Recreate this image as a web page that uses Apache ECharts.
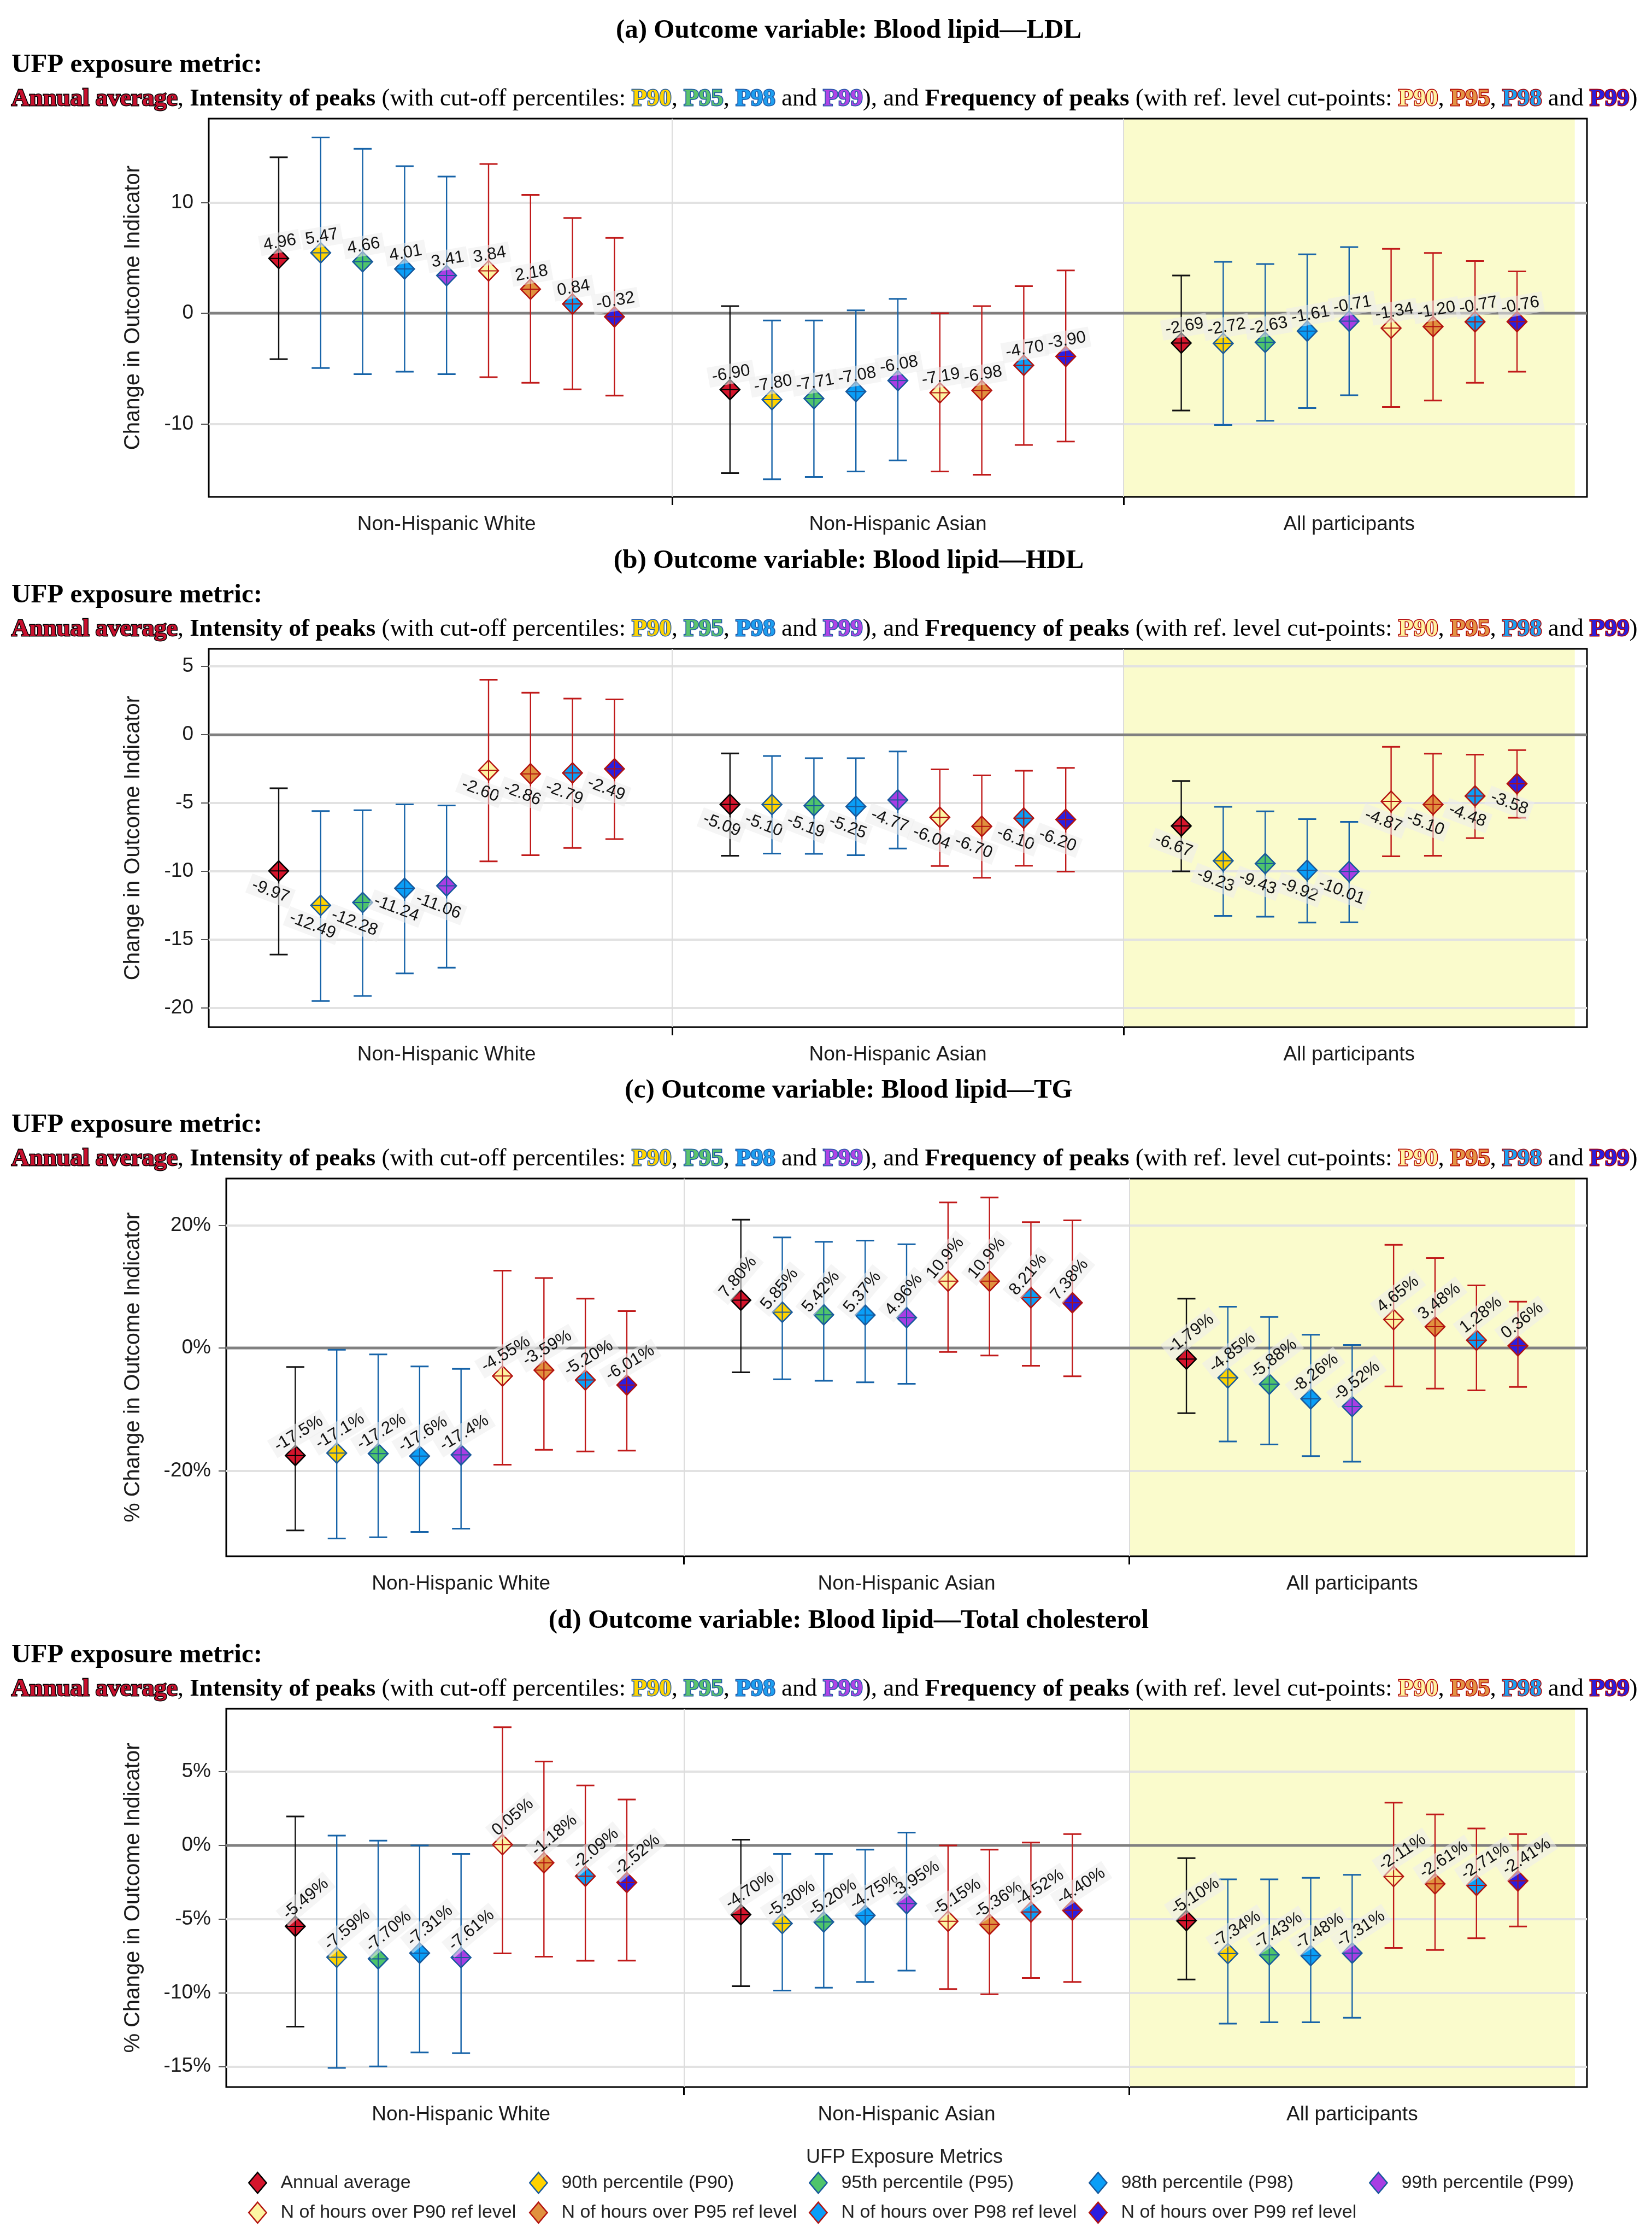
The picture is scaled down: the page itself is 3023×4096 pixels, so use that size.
<!DOCTYPE html>
<html><head><meta charset="utf-8">
<script src="https://cdn.jsdelivr.net/npm/echarts@6/dist/echarts.min.js"></script>
<style>html,body{margin:0;padding:0;background:#fff}#c{width:3023px;height:4096px}</style>
</head><body><div id="c"></div>
<script>
// ---------------- DATA ----------------
const GROUPS = ['Non-Hispanic White', 'Non-Hispanic Asian', 'All participants'];
const METRICS = ['Annual average', '90th percentile (P90)', '95th percentile (P95)', '98th percentile (P98)', '99th percentile (P99)',
  'N of hours over P90 ref level', 'N of hours over P95 ref level', 'N of hours over P98 ref level', 'N of hours over P99 ref level'];

// values ordered: group (White, Asian, All) x metric (9)
const LDL_EST = [4.96, 5.47, 4.66, 4.01, 3.41, 3.84, 2.18, 0.84, -0.32,
  -6.90, -7.80, -7.71, -7.08, -6.08, -7.19, -6.98, -4.70, -3.90,
  -2.69, -2.72, -2.63, -1.61, -0.71, -1.34, -1.20, -0.77, -0.76];
const LDL_LO = [-4.15, -4.95, -5.50, -5.28, -5.50, -5.78, -6.28, -6.88, -7.44,
  -14.45, -15.0, -14.8, -14.3, -13.3, -14.3, -14.6, -11.9, -11.6,
  -8.79, -10.1, -9.72, -8.57, -7.41, -8.47, -7.89, -6.28, -5.28];
const LDL_HI = [14.1, 15.9, 14.87, 13.3, 12.36, 13.5, 10.7, 8.62, 6.81,
  0.65, -0.65, -0.65, 0.26, 1.3, 0.0, 0.65, 2.45, 3.87,
  3.42, 4.65, 4.45, 5.33, 5.98, 5.83, 5.45, 4.72, 3.79];

const HDL_EST = [-9.97, -12.49, -12.28, -11.24, -11.06, -2.60, -2.86, -2.79, -2.49,
  -5.09, -5.10, -5.19, -5.25, -4.77, -6.04, -6.70, -6.10, -6.20,
  -6.67, -9.23, -9.43, -9.92, -10.01, -4.87, -5.10, -4.48, -3.58];
const HDL_LO = [-16.09, -19.49, -19.12, -17.47, -17.05, -9.27, -8.82, -8.29, -7.64,
  -8.86, -8.70, -8.72, -8.82, -8.33, -9.61, -10.47, -9.59, -10.02,
  -10.0, -13.26, -13.32, -13.75, -13.73, -8.90, -8.86, -7.56, -6.07];
const HDL_HI = [-3.91, -5.58, -5.52, -5.09, -5.17, 4.03, 3.08, 2.65, 2.59,
  -1.36, -1.55, -1.71, -1.71, -1.22, -2.53, -2.97, -2.63, -2.42,
  -3.38, -5.27, -5.60, -6.17, -6.37, -0.88, -1.38, -1.45, -1.12];

const TG_EST = [-17.5, -17.1, -17.2, -17.6, -17.4, -4.55, -3.59, -5.20, -6.01,
  7.80, 5.85, 5.42, 5.37, 4.96, 10.9, 10.9, 8.21, 7.38,
  -1.79, -4.85, -5.88, -8.26, -9.52, 4.65, 3.48, 1.28, 0.36];
const TG_LO = [-29.7, -31.0, -30.8, -29.95, -29.4, -19.0, -16.56, -16.83, -16.7,
  -3.94, -5.09, -5.32, -5.58, -5.81, -0.63, -1.21, -2.88, -4.60,
  -10.6, -15.2, -15.7, -17.6, -18.5, -6.24, -6.6, -6.88, -6.33];
const TG_HI = [-3.08, -0.27, -1.04, -2.99, -3.39, 12.6, 11.4, 8.05, 6.02,
  20.9, 18.0, 17.3, 17.5, 16.9, 23.7, 24.5, 20.5, 20.8,
  8.05, 6.74, 5.07, 2.17, 0.50, 16.8, 14.66, 10.2, 7.56];

const TC_EST = [-5.49, -7.59, -7.70, -7.31, -7.61, 0.05, -1.18, -2.09, -2.52,
  -4.70, -5.30, -5.20, -4.75, -3.95, -5.15, -5.36, -4.52, -4.40,
  -5.10, -7.34, -7.43, -7.48, -7.31, -2.11, -2.61, -2.71, -2.41];
const TC_LO = [-12.3, -15.1, -15.0, -14.05, -14.1, -7.33, -7.55, -7.83, -7.82,
  -9.56, -9.85, -9.66, -9.27, -8.5, -9.75, -10.1, -9.0, -9.27,
  -9.1, -12.1, -12.0, -12.0, -11.7, -6.96, -7.1, -6.3, -5.5];
const TC_HI = [1.96, 0.66, 0.32, 0.0, -0.58, 8.02, 5.69, 4.07, 3.11,
  0.39, -0.58, -0.58, -0.29, 0.87, 0.0, -0.29, 0.19, 0.77,
  -0.87, -2.3, -2.3, -2.2, -2.0, 2.9, 2.1, 1.15, 0.77];

const LDL_TICKS = [-10, 0, 10];
const HDL_TICKS = [-20, -15, -10, -5, 0, 5];
const TG_TICKS = [-20, 0, 20];
const TC_TICKS = [-15, -10, -5, 0, 5];

// ---------------- STYLE / LAYOUT ----------------
const SANS = '"Liberation Sans", Arial, sans-serif';
const SERIF = '"Liberation Serif", "DejaVu Serif", serif';
const MK_FILL = ['#d5152c', '#ffd200', '#4fc46b', '#0a9ef7', '#a83ee3', '#fdf5a3', '#e0913f', '#0a9ef7', '#2b1ee0'];
const MK_LINE = ['#000000', '#17599c', '#17599c', '#17599c', '#17599c', '#b3120f', '#b3120f', '#b3120f', '#b3120f'];
const BAR_COL = ['#111111', '#1663a8', '#1663a8', '#1663a8', '#1663a8', '#c01a1a', '#c01a1a', '#c01a1a', '#c01a1a'];
const X_MIN = 0.473, X_MAX = 3.527, DODGE = 0.093;
const BAND = [2.5, 3.5];
const MK_W = 36, MK_H = 37, CAP_W = 33;
const GRID_RIGHT = 2904;
const YNAME_SIZE = 40;

const PANELS = [
  { title: '(a) Outcome variable: Blood lipid\u2014LDL', est: LDL_EST, lo: LDL_LO, hi: LDL_HI, ticks: LDL_TICKS, pct: false,
    ymin: -16.6, ymax: 17.6, yname: 'Change in Outcome Indicator', top: 217, bottom: 909, left: 382,
    lab: [[10, 2, -29], [10, 2, -29], [10, 6, -30]] },
  { title: '(b) Outcome variable: Blood lipid\u2014HDL', est: HDL_EST, lo: HDL_LO, hi: HDL_HI, ticks: HDL_TICKS, pct: false,
    ymin: -21.4, ymax: 6.29, yname: 'Change in Outcome Indicator', top: 1187, bottom: 1879, left: 382,
    lab: [[-21, -15, 37], [-21, -15, 38], [-21, -14, 36]] },
  { title: '(c) Outcome variable: Blood lipid\u2014TG', est: TG_EST, lo: TG_LO, hi: TG_HI, ticks: TG_TICKS, pct: true,
    ymin: -33.9, ymax: 27.6, yname: '% Change in Outcome Indicator', top: 2156, bottom: 2847, left: 414,
    lab: [[31, 6, -40], [50, -5, -42], [38, 8, -46]] },
  { title: '(d) Outcome variable: Blood lipid\u2014Total cholesterol', est: TC_EST, lo: TC_LO, hi: TC_HI, ticks: TC_TICKS, pct: true,
    ymin: -16.4, ymax: 9.27, yname: '% Change in Outcome Indicator', top: 3126, bottom: 3818, left: 414,
    lab: [[40, 19, -50], [33, 16, -44], [33, 16, -44]] }
];

const LEG_COLS = [[0, 5], [1, 6], [2, 7], [3, 8], [4]];
const LEG_X = [468, 982, 1494, 2006, 2519];

function fmtVal(v, pct) {
  if (!pct) return v.toFixed(2);
  return (Math.abs(v) >= 10 ? v.toFixed(1) : v.toFixed(2)) + '%';
}

function bandRender(params, api) {
  const cs = params.coordSys;
  const a = api.coord([BAND[0], 0])[0], b = api.coord([BAND[1], 0])[0];
  return { type: 'rect', shape: { x: a, y: cs.y, width: b - a, height: cs.height }, style: { fill: '#fafbcc' } };
}
function zeroRender(params, api) {
  const cs = params.coordSys;
  const y = api.coord([1, 0])[1];
  return { type: 'line', shape: { x1: cs.x, y1: y, x2: cs.x + cs.width, y2: y }, style: { stroke: '#808080', lineWidth: 5 } };
}
function makeRender(P, k) {
  return function (params, api) {
    const x = api.value(0), est = api.value(1), lo = api.value(2), hi = api.value(3), gi = api.value(4);
    const c = api.coord([x, est]), pl = api.coord([x, lo]), ph = api.coord([x, hi]);
    const col = BAR_COL[k], bc = MK_LINE[k], fill = MK_FILL[k];
    const hw = MK_W / 2, hh = MK_H / 2, cap = CAP_W / 2;
    const L = P.lab[gi];
    return {
      type: 'group', children: [
        { type: 'line', shape: { x1: c[0], y1: ph[1], x2: c[0], y2: pl[1] }, style: { stroke: col, lineWidth: 2.4 } },
        { type: 'line', shape: { x1: c[0] - cap, y1: ph[1], x2: c[0] + cap, y2: ph[1] }, style: { stroke: col, lineWidth: 3 } },
        { type: 'line', shape: { x1: c[0] - cap, y1: pl[1], x2: c[0] + cap, y2: pl[1] }, style: { stroke: col, lineWidth: 3 } },
        { type: 'polygon', shape: { points: [[c[0], c[1] - hh], [c[0] + hw, c[1]], [c[0], c[1] + hh], [c[0] - hw, c[1]]] },
          style: { fill: fill, stroke: bc, lineWidth: 2.5 } },
        { type: 'line', shape: { x1: c[0] - hw + 2, y1: c[1], x2: c[0] + hw - 2, y2: c[1] }, style: { stroke: bc, lineWidth: 2 } },
        { type: 'line', shape: { x1: c[0], y1: c[1] - hh + 2, x2: c[0], y2: c[1] + hh - 2 }, style: { stroke: bc, lineWidth: 2 } },
        { type: 'text', x: c[0] + L[1], y: c[1] + L[2], rotation: L[0] * Math.PI / 180, z2: 100,
          style: { text: fmtVal(est, P.pct), fontSize: 31, fontFamily: SANS, fill: '#111', align: 'center', verticalAlign: 'middle',
            backgroundColor: 'rgba(236,236,236,0.55)', padding: [3, 7] } }
      ]
    };
  };
}

const grid = [], xAxis = [], yAxis = [], series = [], graphic = [];
const HF = 45, OW = 3;
const HDR_RICH = {
  n: { fontFamily: SERIF, fontSize: HF, fill: '#000' },
  b: { fontFamily: SERIF, fontSize: HF, fontWeight: 'bold', fill: '#000' },
  aa: { fontFamily: SERIF, fontSize: HF, fontWeight: 'bold', fill: '#c8102e', stroke: '#000', lineWidth: OW },
  i90: { fontFamily: SERIF, fontSize: HF, fontWeight: 'bold', fill: '#ffd400', stroke: '#1f5aa6', lineWidth: OW },
  i95: { fontFamily: SERIF, fontSize: HF, fontWeight: 'bold', fill: '#5cc36d', stroke: '#1f5aa6', lineWidth: OW },
  i98: { fontFamily: SERIF, fontSize: HF, fontWeight: 'bold', fill: '#1e9ff0', stroke: '#1f5aa6', lineWidth: OW },
  i99: { fontFamily: SERIF, fontSize: HF, fontWeight: 'bold', fill: '#b044e6', stroke: '#1f5aa6', lineWidth: OW },
  f90: { fontFamily: SERIF, fontSize: HF, fontWeight: 'bold', fill: '#fff3a0', stroke: '#b00000', lineWidth: OW },
  f95: { fontFamily: SERIF, fontSize: HF, fontWeight: 'bold', fill: '#e39445', stroke: '#b00000', lineWidth: OW },
  f98: { fontFamily: SERIF, fontSize: HF, fontWeight: 'bold', fill: '#1e9ff0', stroke: '#b00000', lineWidth: OW },
  f99: { fontFamily: SERIF, fontSize: HF, fontWeight: 'bold', fill: '#2b1ee0', stroke: '#b00000', lineWidth: OW }
};
const HDR_TEXT = '{aa|Annual average}{n|, }{b|Intensity of peaks}{n| (with cut-off percentiles: }{i90|P90}{n|, }{i95|P95}{n|, }{i98|P98}{n| and }{i99|P99}{n|), and }{b|Frequency of peaks}{n| (with ref. level cut-points: }{f90|P90}{n|, }{f95|P95}{n|, }{f98|P98}{n| and }{f99|P99}{n|)}';

PANELS.forEach((P, pi) => {
  grid.push({ left: P.left, top: P.top, width: GRID_RIGHT - P.left, height: P.bottom - P.top, show: true,
    borderColor: '#000', borderWidth: 3, backgroundColor: 'transparent', outerBoundsMode: 'none' });
  xAxis.push({ gridIndex: pi, type: 'value', min: X_MIN, max: X_MAX, position: 'bottom',
    axisLine: { show: false, onZero: false },
    axisTick: { show: true, customValues: [1.5, 2.5], length: 15, lineStyle: { color: '#000', width: 3 } },
    axisLabel: { show: true, customValues: [1, 2, 3], formatter: v => GROUPS[Math.round(v) - 1], fontSize: 37, fontFamily: SANS, color: '#1a1a1a', margin: 32 },
    splitLine: { show: true, lineStyle: { color: '#dcdcdc', width: 2 } } });
  yAxis.push({ gridIndex: pi, type: 'value', min: P.ymin, max: P.ymax, name: P.yname, nameLocation: 'middle',
    nameGap: P.left - 244 - YNAME_SIZE / 2, nameTextStyle: { fontSize: YNAME_SIZE, fontFamily: SANS, color: '#1a1a1a' },
    axisLine: { show: false, onZero: false },
    axisTick: { show: true, customValues: P.ticks, length: 14, lineStyle: { color: '#555', width: 2 } },
    axisLabel: { customValues: P.ticks, formatter: v => P.pct ? v + '%' : String(v), fontSize: 37, fontFamily: SANS, color: '#1a1a1a', margin: 28 },
    splitLine: { show: true, lineStyle: { color: '#e2e2e2', width: 4 } } });
  series.push({ type: 'custom', xAxisIndex: pi, yAxisIndex: pi, z: -1, silent: true, data: [[1, 0]], renderItem: bandRender });
  series.push({ type: 'custom', xAxisIndex: pi, yAxisIndex: pi, z: 1, silent: true, data: [[1, 0]], renderItem: zeroRender });
  METRICS.forEach((m, k) => {
    const data = GROUPS.map((g, gi) => {
      const idx = gi * 9 + k;
      return [gi + 1 + (k - 4) * DODGE, P.est[idx], P.lo[idx], P.hi[idx], gi];
    });
    series.push({ type: 'custom', name: m, xAxisIndex: pi, yAxisIndex: pi, z: 2,
      itemStyle: { color: MK_FILL[k], borderColor: MK_LINE[k], borderWidth: 2.5 },
      encode: { x: 0, y: 1 }, data: data, renderItem: makeRender(P, k) });
  });
  graphic.push({ type: 'text', x: 1553, y: P.top - 161, style: { text: P.title, fontFamily: SERIF, fontSize: 49, fontWeight: 'bold', fill: '#000', align: 'center', verticalAlign: 'middle' } });
  graphic.push({ type: 'text', x: 21, y: P.top - 98, style: { text: 'UFP exposure metric:', fontFamily: SERIF, fontSize: 49, fontWeight: 'bold', fill: '#000', align: 'left', verticalAlign: 'middle' } });
  graphic.push({ type: 'text', x: 21, y: P.top - 36, style: { text: HDR_TEXT, rich: HDR_RICH, fontFamily: SERIF, fontSize: HF, fill: '#000', align: 'left', verticalAlign: 'middle' } });
});
graphic.push({ type: 'text', x: 1655, y: 3947, style: { text: 'UFP Exposure Metrics', fontFamily: SANS, fontSize: 36, fill: '#222', align: 'center', verticalAlign: 'middle' } });

const legend = LEG_COLS.map((col, i) => ({
  orient: 'vertical', left: LEG_X[i] - 14, top: 3973, padding: 0, itemWidth: 74, itemHeight: 38, itemGap: 14,
  icon: 'path://M17,0 L34,20 L17,40 L0,20 Z',
  itemStyle: { borderWidth: 2.5 },
  data: col.map(k => METRICS[k]),
  textStyle: { fontSize: 34, fontFamily: SANS, color: '#222' }
}));

const chart = echarts.init(document.getElementById('c'), null, { renderer: 'canvas', width: 3023, height: 4096 });
chart.setOption({
  animation: false,
  backgroundColor: '#ffffff',
  textStyle: { fontFamily: SANS },
  grid, xAxis, yAxis, series, legend, graphic
});
</script>
</body></html>
